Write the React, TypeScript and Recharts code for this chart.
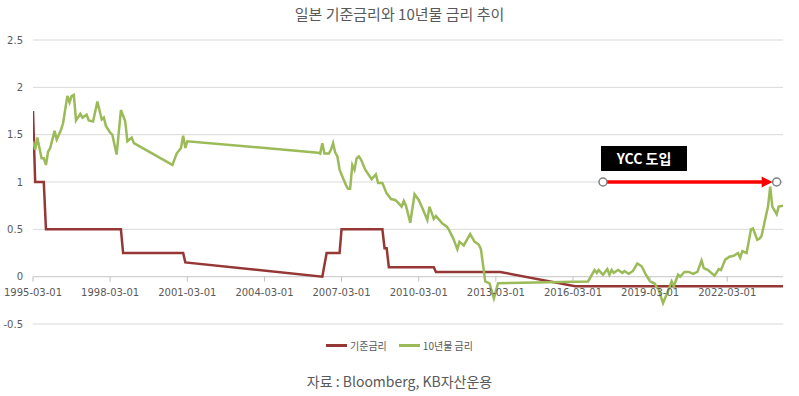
import { LineChart, Line, XAxis, YAxis, CartesianGrid, ReferenceLine } from "recharts";

const title = "일본 기준금리와 10년물 금리 추이";
const source = "자료 : Bloomberg, KB자산운용";

// 기준금리 (policy rate), monthly points where it changes
const rateDates = [
  "1995-03", "1995-04", "1995-08", "1995-09", "1998-08", "1998-09", "2001-01", "2001-02",
  "2006-06", "2006-08", "2007-02", "2007-03", "2008-10", "2008-11", "2008-12", "2009-01",
  "2010-10", "2010-11", "2013-05", "2016-04", "2024-05",
];
const rateValues = [
  1.75, 1.0, 1.0, 0.5, 0.5, 0.25, 0.25, 0.15,
  0.0, 0.25, 0.25, 0.5, 0.5, 0.3, 0.3, 0.1,
  0.1, 0.05, 0.05, -0.1, -0.1,
];

// 10년물 금리 (10y JGB yield)
const yieldDates = [
  "1995-03", "1995-04", "1995-05", "1995-07", "1995-08", "1995-09", "1995-10", "1995-11",
  "1996-01", "1996-02", "1996-04", "1996-05", "1996-07", "1996-08", "1996-09", "1996-10",
  "1996-11", "1997-01", "1997-02", "1997-04", "1997-05", "1997-07", "1997-09", "1997-11",
  "1997-12", "1998-01", "1998-03", "1998-04", "1998-06", "1998-08", "1998-10", "1998-11",
  "1999-01", "1999-02", "2000-08", "2000-10", "2000-12", "2001-01", "2001-02", "2001-03",
  "2006-04", "2006-05", "2006-06", "2006-07", "2006-09", "2006-10", "2006-11", "2006-12",
  "2007-01", "2007-02", "2007-03", "2007-05", "2007-06", "2007-07", "2007-08", "2007-09",
  "2007-10", "2007-11", "2007-12", "2008-02", "2008-05", "2008-07", "2008-08", "2008-10",
  "2008-12", "2009-02", "2009-04", "2009-05", "2009-07", "2009-08", "2009-09", "2009-11",
  "2010-01", "2010-03", "2010-05", "2010-07", "2010-08", "2010-10", "2010-11", "2011-02",
  "2011-04", "2011-05", "2011-07", "2011-09", "2011-10", "2011-12", "2012-03", "2012-05",
  "2012-07", "2012-08", "2012-10", "2012-12", "2013-02", "2013-04", "2016-10", "2017-01",
  "2017-02", "2017-03", "2017-05", "2017-07", "2017-08", "2017-09", "2017-10", "2017-12",
  "2018-02", "2018-03", "2018-05", "2018-07", "2018-09", "2018-11", "2019-01", "2019-03",
  "2019-05", "2019-07", "2019-09", "2019-11", "2020-01", "2020-02", "2020-04", "2020-05",
  "2020-07", "2020-09", "2020-11", "2021-01", "2021-03", "2021-04", "2021-06", "2021-09",
  "2021-11", "2021-12", "2022-02", "2022-04", "2022-06", "2022-08", "2022-09", "2022-10",
  "2022-12", "2023-02", "2023-03", "2023-05", "2023-06", "2023-07", "2023-09", "2023-10",
  "2023-11", "2023-12", "2024-02", "2024-03", "2024-05",
];
const yieldValues = [
  1.43, 1.34, 1.47, 1.25, 1.25, 1.18, 1.32, 1.36,
  1.54, 1.45, 1.55, 1.62, 1.91, 1.84, 1.91, 1.92,
  1.65, 1.72, 1.68, 1.71, 1.65, 1.64, 1.85, 1.66,
  1.68, 1.59, 1.52, 1.5, 1.29, 1.76, 1.64, 1.43,
  1.47, 1.41, 1.18, 1.3, 1.36, 1.49, 1.36, 1.43,
  1.31, 1.3, 1.41, 1.3, 1.3, 1.34, 1.41, 1.31,
  1.27, 1.13, 1.08, 0.97, 0.93, 0.93, 1.18, 1.13,
  1.25, 1.27, 1.24, 1.13, 1.03, 1.08, 0.99, 0.99,
  0.88, 0.82, 0.81, 0.79, 0.74, 0.8, 0.75, 0.57,
  0.87, 0.81, 0.71, 0.6, 0.74, 0.61, 0.64, 0.56,
  0.53, 0.5, 0.41, 0.29, 0.37, 0.33, 0.45, 0.37,
  0.34, 0.29, -0.05, -0.07, -0.23, -0.07, -0.05, 0.07,
  0.04, 0.07, 0.02, 0.08, 0.02, 0.07, 0.04, 0.07,
  0.04, 0.06, 0.03, 0.06, 0.14, 0.11, 0.02, -0.05,
  -0.07, -0.14, -0.28, -0.17, -0.05, -0.1, 0.02, 0.0,
  0.05, 0.05, 0.03, 0.05, 0.17, 0.09, 0.07, 0.01,
  0.08, 0.07, 0.18, 0.21, 0.22, 0.25, 0.2, 0.27,
  0.25, 0.5, 0.51, 0.39, 0.4, 0.43, 0.64, 0.74,
  0.95, 0.74, 0.66, 0.74, 0.75,
];

const yTicks = [-0.5, 0, 0.5, 1, 1.5, 2, 2.5];
const xTickLabels = [
  "1995-03-01", "1998-03-01", "2001-03-01", "2004-03-01", "2007-03-01",
  "2010-03-01", "2013-03-01", "2016-03-01", "2019-03-01", "2022-03-01",
];
const xStart = "1995-03-01";
const xEnd = "2024-05-01";

const yccLabel = "YCC 도입";
const yccFrom = "2017-05";
const yccTo = "2024-02";
const yccLevel = 1;

const series = [
  { name: "기준금리", color: "#953735", dates: rateDates, values: rateValues },
  { name: "10년물 금리", color: "#9bbb59", dates: yieldDates, values: yieldValues },
];

const toTime = (s: string) => {
  const [y, m, d] = s.split("-").map(Number);
  return Date.UTC(y, m - 1, d || 1);
};

const W = 799;
const H = 340;
const M = { top: 40, right: 16, bottom: 15, left: 0 };
const X_AXIS_H = 1;
const Y_AXIS_W = 33;
const yMin = -0.5;
const yMax = 2.5;
const plotH = H - M.top - M.bottom - X_AXIS_H;
const zeroY = M.top + (plotH * (yMax - 0)) / (yMax - yMin);

const textGray = "#595959";
const axisFont = "'DejaVu Sans', Verdana, sans-serif";
const krFont = "'Noto Sans CJK KR', 'Noto Sans', sans-serif";

function XTick(props: any) {
  const { x, payload } = props;
  const label = new Date(payload.value).toISOString().slice(0, 10);
  return (
    <g>
      <line x1={x} x2={x} y1={zeroY} y2={zeroY + 5} stroke="#bfbfbf" />
      <text x={x} y={zeroY + 19} textAnchor="middle" fontSize={10} fill={textGray} fontFamily={axisFont}>
        {label}
      </text>
    </g>
  );
}

function YccArrow(props: any) {
  const { x1, y1, x2, y2 } = props;
  const tip = x2 - 4;
  return (
    <g>
      <line x1={x1 + 4} y1={y1} x2={tip - 9} y2={y2} stroke="#ff0000" strokeWidth={3.5} />
      <polygon points={`${tip},${y2} ${tip - 11},${y2 - 5.5} ${tip - 11},${y2 + 5.5}`} fill="#ff0000" />
      <circle cx={x1} cy={y1} r={4} fill="#fff" stroke="#808080" strokeWidth={1.5} />
      <circle cx={x2} cy={y2} r={4} fill="#fff" stroke="#808080" strokeWidth={1.5} />
      <rect x={x1 - 2} y={y1 - 36} width={86} height={25} fill="#000" />
      <text x={x1 + 41} y={y1 - 18.5} textAnchor="middle" fontSize={14} fontWeight={700} fill="#fff" fontFamily={krFont}>
        {yccLabel}
      </text>
    </g>
  );
}

export default function App() {
  const lines = series.map((s) => ({
    ...s,
    data: s.dates.map((d, i) => ({ t: toTime(d), v: s.values[i] })),
  }));
  const xTicks = xTickLabels.map(toTime);

  return (
    <div style={{ position: "relative", width: W, height: 396, background: "#fff", fontFamily: krFont }}>
      <style>{`body{margin:0}`}</style>
      <div style={{ position: "absolute", top: 3, left: 0, width: W, textAlign: "center", fontSize: 15, color: textGray }}>
        {title}
      </div>
      <LineChart width={W} height={H} margin={M}>
        <CartesianGrid vertical={false} stroke="#d9d9d9" />
        <XAxis
          type="number"
          dataKey="t"
          domain={[toTime(xStart), toTime(xEnd)]}
          ticks={xTicks}
          interval={0}
          tick={XTick}
          axisLine={false}
          tickLine={false}
          height={X_AXIS_H}
          allowDataOverflow
        />
        <YAxis
          width={Y_AXIS_W}
          domain={[yMin, yMax]}
          ticks={yTicks}
          interval={0}
          axisLine={false}
          tickLine={false}
          tickMargin={4}
          tick={{ fontSize: 10, fill: textGray, fontFamily: axisFont }}
        />
        <ReferenceLine y={0} stroke="#cfcfcf" />
        {lines.map((s) => (
          <Line
            key={s.name}
            data={s.data}
            dataKey="v"
            name={s.name}
            type="linear"
            stroke={s.color}
            strokeWidth={2.5}
            dot={false}
            activeDot={false}
            isAnimationActive={false}
          />
        ))}
        <ReferenceLine
          segment={[
            { x: toTime(yccFrom), y: yccLevel },
            { x: toTime(yccTo), y: yccLevel },
          ]}
          shape={YccArrow}
        />
      </LineChart>
      <div
        style={{
          position: "absolute",
          top: 338,
          left: 0,
          width: W,
          display: "flex",
          justifyContent: "center",
          gap: 12,
          fontSize: 10,
          color: textGray,
        }}
      >
        {series.map((s) => (
          <div key={s.name} style={{ display: "flex", alignItems: "center" }}>
            <span style={{ display: "inline-block", width: 21, height: 2.5, background: s.color, marginRight: 3 }} />
            <span>{s.name}</span>
          </div>
        ))}
      </div>
      <div style={{ position: "absolute", top: 371, left: 0, width: W, textAlign: "center", fontSize: 14, color: textGray }}>
        {source}
      </div>
    </div>
  );
}
